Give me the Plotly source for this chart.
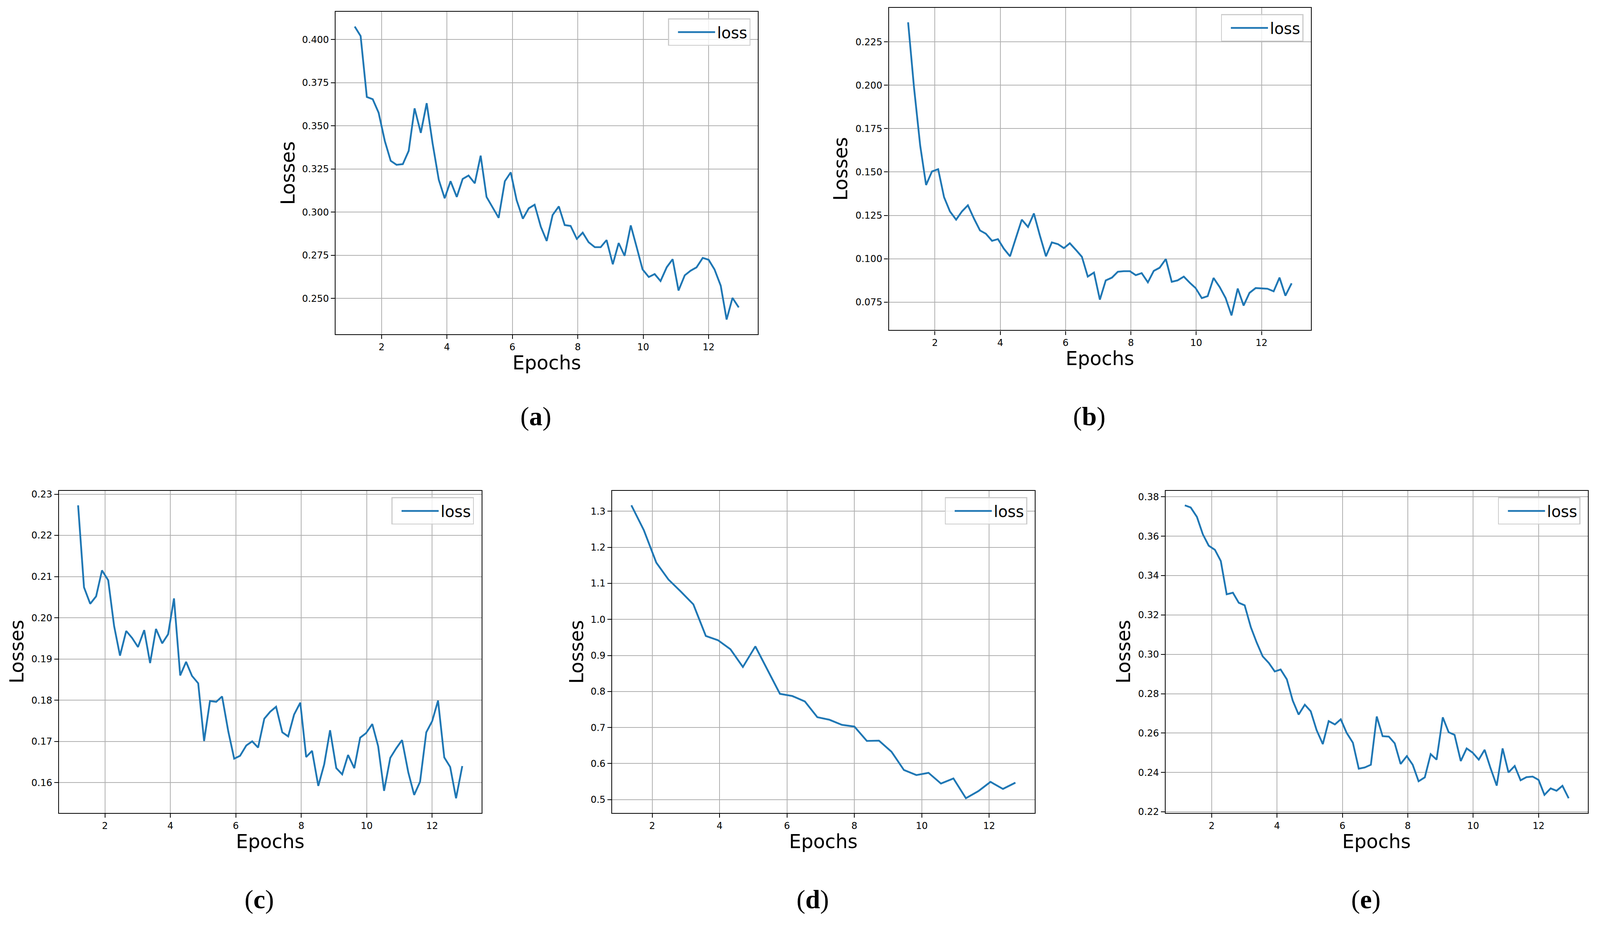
import plotly.graph_objects as go

W, H = 4224, 2374

# ---------------- data ----------------
EPOCHS_65 = [1.18, 1.36, 1.55, 1.73, 1.91, 2.10, 2.28, 2.46, 2.65, 2.83,
             3.01, 3.20, 3.38, 3.56, 3.75, 3.93, 4.11, 4.30, 4.48, 4.66,
             4.85, 5.03, 5.21, 5.40, 5.58, 5.77, 5.95, 6.13, 6.32, 6.50,
             6.68, 6.87, 7.05, 7.23, 7.42, 7.60, 7.78, 7.97, 8.15, 8.33,
             8.52, 8.70, 8.88, 9.07, 9.25, 9.43, 9.62, 9.80, 9.98, 10.17,
             10.35, 10.53, 10.72, 10.90, 11.08, 11.27, 11.45, 11.63, 11.82, 12.00,
             12.18, 12.37, 12.55, 12.73, 12.92]

EPOCHS_32 = [1.38, 1.75, 2.12, 2.48, 2.85, 3.22, 3.59, 3.95, 4.32, 4.69,
             5.06, 5.42, 5.79, 6.16, 6.53, 6.90, 7.26, 7.63, 8.00, 8.37,
             8.73, 9.10, 9.47, 9.84, 10.20, 10.57, 10.94, 11.31, 11.68, 12.04,
             12.41, 12.78]

LOSS_A = [0.4075, 0.4020, 0.3667, 0.3654, 0.3576, 0.3412, 0.3297, 0.3274, 0.3278, 0.3355,
          0.3601, 0.3459, 0.3631, 0.3399, 0.3187, 0.3080, 0.3179, 0.3088, 0.3192, 0.3212,
          0.3167, 0.3327, 0.3088, 0.3027, 0.2967, 0.3179, 0.3230, 0.3069, 0.2962, 0.3022,
          0.3043, 0.2915, 0.2833, 0.2983, 0.3033, 0.2925, 0.2920, 0.2845, 0.2881, 0.2826,
          0.2797, 0.2797, 0.2838, 0.2698, 0.2821, 0.2747, 0.2923, 0.2797, 0.2668, 0.2624,
          0.2641, 0.2601, 0.2681, 0.2727, 0.2546, 0.2634, 0.2661, 0.2680, 0.2735, 0.2724,
          0.2668, 0.2574, 0.2378, 0.2503, 0.2448]

LOSS_B = [0.2363, 0.1988, 0.1652, 0.1425, 0.1503, 0.1516, 0.1355, 0.1273, 0.1225, 0.1273,
          0.1308, 0.1230, 0.1163, 0.1144, 0.1103, 0.1113, 0.1058, 0.1014, 0.1120, 0.1225,
          0.1183, 0.1261, 0.1136, 0.1014, 0.1094, 0.1084, 0.1061, 0.1089, 0.1050, 0.1011,
          0.0897, 0.0920, 0.0764, 0.0875, 0.0891, 0.0925, 0.0928, 0.0928, 0.0905, 0.0917,
          0.0864, 0.0930, 0.0948, 0.0998, 0.0867, 0.0875, 0.0897, 0.0862, 0.0831, 0.0773,
          0.0784, 0.0889, 0.0836, 0.0773, 0.0673, 0.0828, 0.0730, 0.0803, 0.0831, 0.0828,
          0.0827, 0.0812, 0.0891, 0.0787, 0.0858]

LOSS_C = [0.2273, 0.2074, 0.2034, 0.2052, 0.2115, 0.2091, 0.1980, 0.1908, 0.1968, 0.1951,
          0.1929, 0.1970, 0.1890, 0.1973, 0.1938, 0.1960, 0.2047, 0.1860, 0.1893, 0.1859,
          0.1841, 0.1701, 0.1798, 0.1796, 0.1809, 0.1724, 0.1658, 0.1665, 0.1690, 0.1700,
          0.1685, 0.1755, 0.1772, 0.1784, 0.1722, 0.1712, 0.1765, 0.1794, 0.1662, 0.1677,
          0.1592, 0.1644, 0.1727, 0.1635, 0.1620, 0.1667, 0.1635, 0.1709, 0.1720, 0.1742,
          0.1688, 0.1580, 0.1660, 0.1683, 0.1703, 0.1625, 0.1570, 0.1602, 0.1722, 0.1749,
          0.1799, 0.1661, 0.1638, 0.1562, 0.1640]

LOSS_D = [1.3164, 1.2476, 1.1575, 1.1106, 1.0769, 1.0417, 0.9540, 0.9423, 0.9172, 0.8679,
          0.9250, 0.8601, 0.7935, 0.7873, 0.7724, 0.7286, 0.7215, 0.7074, 0.7027, 0.6628,
          0.6636, 0.6331, 0.5822, 0.5681, 0.5744, 0.5446, 0.5587, 0.5039, 0.5235, 0.5493,
          0.5297, 0.5470]

LOSS_E = [0.3757, 0.3746, 0.3698, 0.3610, 0.3552, 0.3531, 0.3474, 0.3305, 0.3313, 0.3262,
          0.3249, 0.3137, 0.3059, 0.2990, 0.2956, 0.2913, 0.2923, 0.2873, 0.2765, 0.2694,
          0.2744, 0.2711, 0.2615, 0.2544, 0.2661, 0.2644, 0.2670, 0.2601, 0.2551, 0.2419,
          0.2425, 0.2439, 0.2684, 0.2584, 0.2582, 0.2548, 0.2443, 0.2483, 0.2439, 0.2355,
          0.2375, 0.2493, 0.2465, 0.2680, 0.2604, 0.2591, 0.2458, 0.2522, 0.2501, 0.2465,
          0.2515, 0.2422, 0.2333, 0.2522, 0.2400, 0.2433, 0.2360, 0.2376, 0.2379, 0.2362,
          0.2286, 0.2319, 0.2307, 0.2332, 0.2269]

PANEL_LETTERS = ["a", "b", "c", "d", "e"]
SERIES_NAME = "loss"
X_TITLE = "Epochs"
Y_TITLE = "Losses"
X_DTICK = 2
Y_DTICKS = [0.025, 0.025, 0.01, 0.1, 0.02]
Y_FORMATS = [".3f", ".3f", ".2f", ".1f", ".2f"]

PANEL_X = [EPOCHS_65, EPOCHS_65, EPOCHS_65, EPOCHS_32, EPOCHS_65]
PANEL_Y = [LOSS_A, LOSS_B, LOSS_C, LOSS_D, LOSS_E]

# ---------------- layout (pixel boxes of each axes frame) ----------------
FRAMES = [  # left, top, right, bottom in page pixels
    (885.8, 25.6, 2000.9, 856.9),
    (2346.8, 14.7, 3460.5, 846.4),
    (155.5, 1260.6, 1271.1, 2091.7),
    (1616.1, 1260.6, 2731.4, 2091.7),
    (3077.3, 1260.6, 4191.9, 2091.7),
]
YLABEL_OFFSETS = [126, 127, 111, 94, 111]
LETTER_Y = [1069, 1069, 2315, 2315, 2315]

BLUE = "#1f77b4"
GRID = "#b0b0b0"
SANS = "DejaVu Sans"
SERIF = "Liberation Serif"


def px(x):
    return x / W


def py(y):
    return 1 - y / H


def padded(values):
    lo, hi = min(values), max(values)
    pad = 0.05 * (hi - lo)
    return [lo - pad, hi + pad]


fig = go.Figure()
annotations = []
layout = {}

for i, (xs, ys) in enumerate(zip(PANEL_X, PANEL_Y)):
    n = "" if i == 0 else str(i + 1)
    l, t, r, b = FRAMES[i]
    leg = "legend" if i == 0 else f"legend{i + 1}"
    fig.add_trace(go.Scatter(
        x=xs, y=ys, mode="lines", name=SERIES_NAME,
        line=dict(color=BLUE, width=4.6),
        xaxis="x" + n, yaxis="y" + n, legend=leg, showlegend=True,
    ))
    common = dict(
        showgrid=True, gridcolor=GRID, gridwidth=2.4,
        showline=True, linecolor="black", linewidth=2.4, mirror=True,
        ticks="outside", ticklen=10, tickwidth=2.2, tickcolor="black",
        tickfont=dict(family=SANS, size=24, color="black"),
        zeroline=False,
    )
    layout["xaxis" + n] = dict(
        common, domain=[px(l), px(r)], anchor="y" + n,
        range=padded(xs), dtick=X_DTICK, tick0=0,
    )
    layout["yaxis" + n] = dict(
        common, domain=[py(b), py(t)], anchor="x" + n,
        range=padded(ys), dtick=Y_DTICKS[i], tick0=0,
        tickformat=Y_FORMATS[i],
    )
    layout[leg] = dict(
        x=px(r - 19.7), y=py(t + 17), xref="paper", yref="paper",
        xanchor="right", yanchor="top",
        bgcolor="rgba(255,255,255,0.8)", bordercolor="#cccccc", borderwidth=2.5,
        font=dict(family=SANS, size=40, color="black"),
        itemwidth=95, indentation=18,
    )
    # axis titles
    annotations.append(dict(
        x=px((l + r) / 2), y=py(b + 74), xref="paper", yref="paper",
        text=X_TITLE, showarrow=False, xanchor="center", yanchor="middle",
        font=dict(family=SANS, size=49, color="black"),
    ))
    annotations.append(dict(
        x=px(l - YLABEL_OFFSETS[i]), y=py((t + b) / 2), xref="paper", yref="paper",
        text=Y_TITLE, showarrow=False, textangle=-90,
        xanchor="center", yanchor="middle",
        font=dict(family=SANS, size=49, color="black"),
    ))
    # panel letter
    annotations.append(dict(
        x=px(l + 529), y=py(LETTER_Y[i]), xref="paper", yref="paper",
        text="(<b>" + PANEL_LETTERS[i] + "</b>)", showarrow=False,
        xanchor="center", yanchor="middle",
        font=dict(family=SERIF, size=68, color="black"),
    ))

fig.update_layout(
    autosize=True,
    margin=dict(l=0, r=0, t=0, b=0, pad=0),
    paper_bgcolor="white", plot_bgcolor="white",
    annotations=annotations,
    **layout,
)

POST = (
    "document.documentElement.style.margin='0';"
    "document.body.style.margin='0';"
    "document.documentElement.style.overflow='hidden';"
    "document.body.style.overflow='hidden';"
    "var gd=document.getElementById('{plot_id}');"
    "gd.style.width='100vw';gd.style.height='100vh';"
    "Plotly.Plots.resize(gd);"
)

fig.write_html(
    "out.html",
    config={"responsive": True, "displayModeBar": False},
    default_width="100vw",
    default_height="100vh",
    post_script=POST,
)
